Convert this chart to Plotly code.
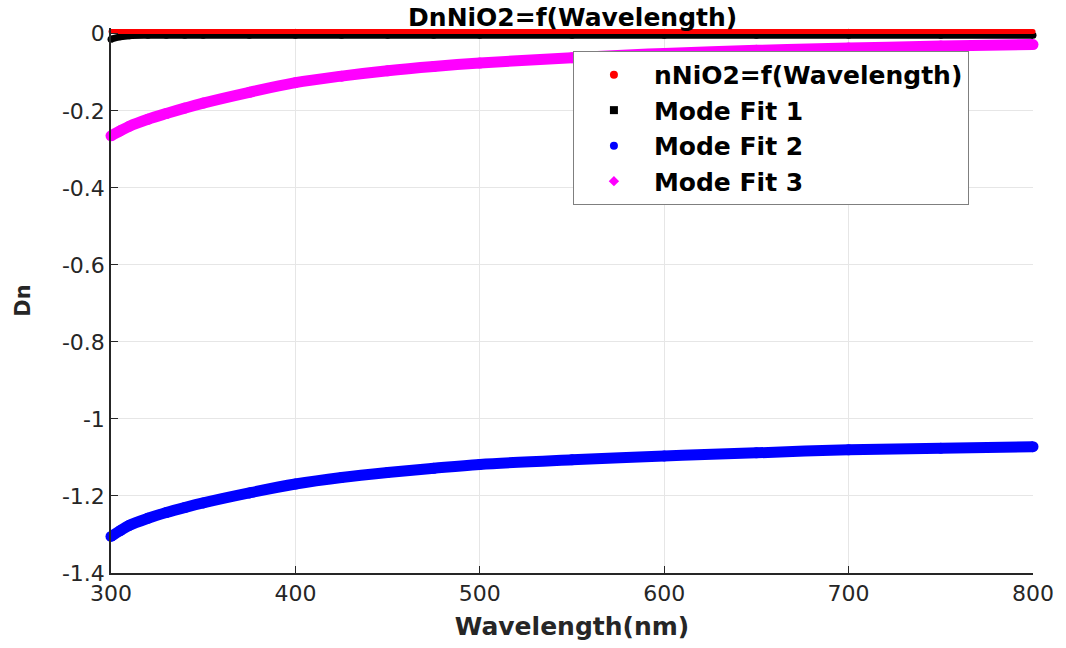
import plotly.graph_objects as go

# Wavelength sample points (nm)
wl = [300, 305, 310, 320, 330, 340, 350, 375, 400, 425, 450, 475, 500, 550, 600, 650, 700, 750, 800]

# Series values
n_nio2 = [0.006, 0.006, 0.006, 0.006, 0.006, 0.006, 0.006, 0.006, 0.006, 0.006, 0.006, 0.006, 0.006, 0.006, 0.006, 0.006, 0.006, 0.006, 0.006]
mode1 = [-0.014, -0.008, -0.005, -0.004, -0.004, -0.004, -0.004, -0.004, -0.004, -0.004, -0.004, -0.004, -0.004, -0.004, -0.004, -0.004, -0.004, -0.004, -0.004]
mode2 = [-1.305, -1.290, -1.276, -1.258, -1.243, -1.230, -1.218, -1.192, -1.169, -1.152, -1.139, -1.128, -1.118, -1.106, -1.096, -1.088, -1.080, -1.076, -1.072]
mode3 = [-0.265, -0.252, -0.240, -0.222, -0.207, -0.193, -0.180, -0.152, -0.127, -0.110, -0.096, -0.085, -0.076, -0.062, -0.051, -0.043, -0.037, -0.032, -0.028]

names = ["nNiO2=f(Wavelength)", "Mode Fit 1", "Mode Fit 2", "Mode Fit 3"]
colors = ["#ff0000", "#000000", "#0000ff", "#ff00ff"]
symbols = ["circle", "square", "circle", "diamond"]
widths = [5, 7, 11, 11]
series = [n_nio2, mode1, mode2, mode3]

xticks = [300, 400, 500, 600, 700, 800]
yticks = [0, -0.2, -0.4, -0.6, -0.8, -1, -1.2, -1.4]
ytick_text = ["0", "-0.2", "-0.4", "-0.6", "-0.8", "-1", "-1.2", "-1.4"]

fig = go.Figure()
# drawn curves (no legend); draw order: mode3, mode2, mode1, nNiO2 on top
for idx in [3, 2, 1, 0]:
    fig.add_trace(go.Scatter(x=wl, y=series[idx], mode="lines+markers",
                             line=dict(color=colors[idx], width=widths[idx], shape="spline"),
                             marker=dict(color=colors[idx], size=widths[idx]),
                             cliponaxis=False, showlegend=False, hoverinfo="skip"))
# legend entries
for nm, c, s in zip(names, colors, symbols):
    fig.add_trace(go.Scatter(x=[None], y=[None], mode="markers", name=nm,
                             marker=dict(color=c, symbol=s, size=8)))

font_family = "DejaVu Sans, Liberation Sans, Arial, sans-serif"
fig.update_layout(
    width=1066, height=648,
    margin=dict(l=111, r=29, t=28, b=74),
    paper_bgcolor="white", plot_bgcolor="white",
    font=dict(family=font_family, color="#262626"),
    title=dict(text="<b>DnNiO2=f(Wavelength)</b>", x=0.5372, xanchor="center",
               y=0.974, yanchor="middle", font=dict(size=25, color="#000000")),
    showlegend=True,
    legend=dict(x=0.501, y=0.958, xanchor="left", yanchor="top",
                bgcolor="white", bordercolor="#7f7f7f", borderwidth=1,
                font=dict(size=25, color="#000000", family=font_family, weight="bold"),
                itemwidth=70, tracegroupgap=0),
)
fig.update_xaxes(range=[300, 800], tickvals=xticks, ticktext=[str(v) for v in xticks],
                 showgrid=True, gridcolor="#e6e6e6", gridwidth=1,
                 showline=True, linecolor="#262626", linewidth=1.5,
                 ticks="inside", ticklen=7, tickcolor="#262626",
                 tickfont=dict(size=22, color="#262626"),
                 title=dict(text="<b>Wavelength(nm)</b>", font=dict(size=25, color="#262626"), standoff=12),
                 zeroline=False)
fig.update_yaxes(range=[-1.4, 0.015], tickvals=yticks, ticktext=ytick_text,
                 showgrid=True, gridcolor="#e6e6e6", gridwidth=1,
                 showline=True, linecolor="#262626", linewidth=1.5,
                 ticks="inside", ticklen=7, tickcolor="#262626",
                 tickfont=dict(size=22, color="#262626"),
                 title=dict(text="<b>Dn</b>", font=dict(size=21, color="#262626"), standoff=26),
                 zeroline=False)

fig.write_html("out.html")
